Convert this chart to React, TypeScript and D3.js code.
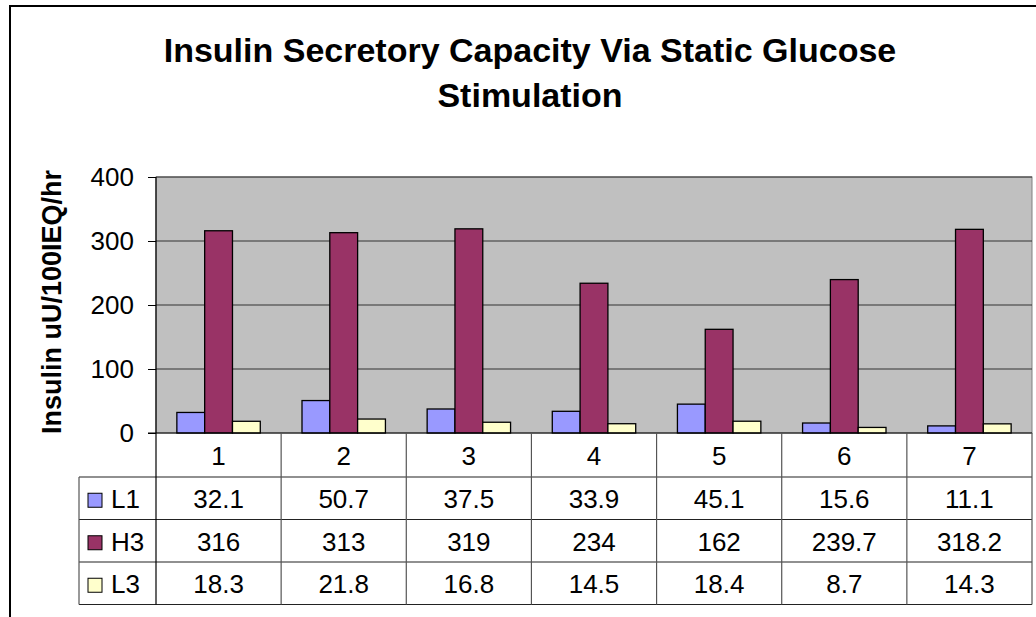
import React, { useEffect, useRef } from 'react';
import * as d3 from 'd3';

// chart values
const categories = ['1', '2', '3', '4', '5', '6', '7'];
const seriesNames = ['L1', 'H3', 'L3'];
const l1Values = [32.1, 50.7, 37.5, 33.9, 45.1, 15.6, 11.1];
const h3Values = [316, 313, 319, 234, 162, 239.7, 318.2];
const l3Values = [18.3, 21.8, 16.8, 14.5, 18.4, 8.7, 14.3];
const l1Labels = ['32.1', '50.7', '37.5', '33.9', '45.1', '15.6', '11.1'];
const h3Labels = ['316', '313', '319', '234', '162', '239.7', '318.2'];
const l3Labels = ['18.3', '21.8', '16.8', '14.5', '18.4', '8.7', '14.3'];
const yTicks = [0, 100, 200, 300, 400];
const seriesColors = ['#9999FF', '#993366', '#FFFFCC'];

const FONT = 'Liberation Sans, Arial, Helvetica, sans-serif';

export default function App() {
  const chartRef = useRef<SVGSVGElement | null>(null);

  useEffect(() => {
    const svg = d3.select(chartRef.current);
    svg.selectAll('*').remove();

    const series = [l1Values, h3Values, l3Values];
    const seriesText = [l1Labels, h3Labels, l3Labels];

    const plot = { left: 156, right: 1032, top: 177, bottom: 433 };
    const headerH = 44;
    const rowH = 42.5;
    const legendLeft = 79;

    //1. chart border
    svg.append('rect')
      .attr('x', 10).attr('y', 6)
      .attr('width', 1100).attr('height', 700)
      .attr('fill', '#fff').attr('stroke', '#000').attr('stroke-width', 2);

    //2. title
    const title = svg.append('text')
      .attr('text-anchor', 'middle')
      .attr('font-family', FONT).attr('font-weight', 'bold').attr('font-size', 34)
      .attr('fill', '#000');
    title.append('tspan').attr('x', 530).attr('y', 62).text('Insulin Secretory Capacity Via Static Glucose');
    title.append('tspan').attr('x', 530).attr('y', 107).text('Stimulation');

    //3. scales
    const x = d3.scaleBand<string>().domain(categories).range([plot.left, plot.right]);
    const xSub = d3.scaleBand<string>().domain(seriesNames).range([0, x.bandwidth()]).paddingOuter(0.75);
    const y = d3.scaleLinear().domain([0, 400]).range([plot.bottom, plot.top]);

    //4. plot area
    svg.append('rect')
      .attr('x', plot.left).attr('y', plot.top)
      .attr('width', plot.right - plot.left).attr('height', plot.bottom - plot.top)
      .attr('fill', '#C0C0C0').attr('stroke', '#808080').attr('stroke-width', 1);

    // gridlines
    svg.append('g').selectAll('line')
      .data(yTicks.filter(d => d > 0))
      .enter().append('line')
      .attr('x1', plot.left).attr('x2', plot.right)
      .attr('y1', d => y(d)).attr('y2', d => y(d))
      .attr('stroke', '#333').attr('stroke-width', 1.2);

    // y axis
    const yAxis = d3.axisLeft(y).tickValues(yTicks).tickSize(8).tickPadding(14).tickFormat(d3.format('d'));
    const yg = svg.append('g').attr('transform', `translate(${plot.left},0)`).call(yAxis);
    yg.select('.domain').remove();
    yg.selectAll('line').attr('stroke', '#000');
    yg.selectAll('text').attr('font-family', FONT).attr('font-size', 26).attr('fill', '#000');

    svg.append('text')
      .attr('transform', 'translate(61,302) rotate(-90)')
      .attr('text-anchor', 'middle')
      .attr('font-family', FONT).attr('font-weight', 'bold').attr('font-size', 27)
      .text('Insulin uU/100IEQ/hr');

    //5. bars
    series.forEach((vals, s) => {
      svg.append('g').selectAll('rect')
        .data(vals)
        .enter().append('rect')
        .attr('x', (d, i) => (x(categories[i]) as number) + (xSub(seriesNames[s]) as number))
        .attr('width', xSub.bandwidth())
        .attr('y', d => y(d))
        .attr('height', d => y(0) - y(d))
        .attr('fill', seriesColors[s])
        .attr('stroke', '#000').attr('stroke-width', 1.3);
    });

    //6. data table
    const tableBottom = plot.bottom + headerH + rowH * series.length;
    const tg = svg.append('g');
    // horizontal lines
    const rowLines = d3.range(series.length + 1).map(r => plot.bottom + headerH + r * rowH);
    tg.selectAll('line.h')
      .data(rowLines)
      .enter().append('line')
      .attr('x1', legendLeft).attr('x2', plot.right)
      .attr('y1', d => d).attr('y2', d => d)
      .attr('stroke', '#222').attr('stroke-width', 1.2);
    // x axis line
    tg.append('line')
      .attr('x1', plot.left - 8).attr('x2', plot.right)
      .attr('y1', plot.bottom).attr('y2', plot.bottom)
      .attr('stroke', '#000').attr('stroke-width', 1.2);
    // vertical lines
    const colLines = categories.map(c => x(c) as number).concat([plot.right]);
    tg.selectAll('line.v')
      .data(colLines)
      .enter().append('line')
      .attr('x1', d => d).attr('x2', d => d)
      .attr('y1', (d, i) => (i === 0 ? plot.top : plot.bottom)).attr('y2', tableBottom)
      .attr('stroke', (d, i) => (i === 0 ? '#000' : '#555')).attr('stroke-width', 1.2);
    tg.append('line')
      .attr('x1', legendLeft).attr('x2', legendLeft)
      .attr('y1', plot.bottom + headerH).attr('y2', tableBottom)
      .attr('stroke', '#555').attr('stroke-width', 1.2);

    // header labels
    tg.selectAll('text.cat')
      .data(categories)
      .enter().append('text')
      .attr('x', d => (x(d) as number) + x.bandwidth() / 2)
      .attr('y', plot.bottom + headerH / 2 + 1)
      .attr('dy', '0.35em')
      .attr('text-anchor', 'middle')
      .attr('font-family', FONT).attr('font-size', 26)
      .text(d => d);

    // rows
    seriesText.forEach((labels, s) => {
      const cy = plot.bottom + headerH + s * rowH + rowH / 2 + 1;
      tg.selectAll('text.row' + s)
        .data(labels)
        .enter().append('text')
        .attr('x', (d, i) => (x(categories[i]) as number) + x.bandwidth() / 2)
        .attr('y', cy)
        .attr('dy', '0.35em')
        .attr('text-anchor', 'middle')
        .attr('font-family', FONT).attr('font-size', 26)
        .text(d => d);
      // legend key
      tg.append('rect')
        .attr('x', 88).attr('y', cy - 6)
        .attr('width', 14).attr('height', 14)
        .attr('fill', seriesColors[s]).attr('stroke', '#000').attr('stroke-width', 1);
      tg.append('text')
        .attr('x', 111).attr('y', cy)
        .attr('dy', '0.35em')
        .attr('font-family', FONT).attr('font-size', 26)
        .text(seriesNames[s]);
    });
  }, []);

  return (
    <div style={{ width: 1036, height: 617 }}>
      <svg
        ref={chartRef}
        width={1036}
        height={617}
        style={{ position: 'absolute', left: 0, top: 0, background: '#fff' }}
      />
    </div>
  );
}
